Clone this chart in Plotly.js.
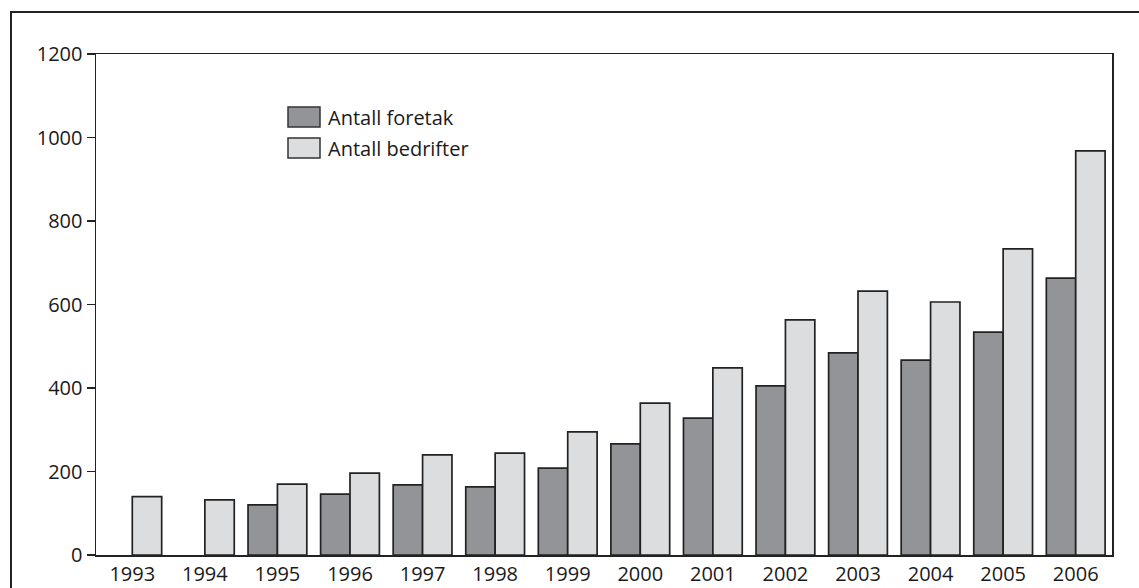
<!DOCTYPE html>
<html>
<head>
<meta charset="utf-8">
<script src="https://cdn.plot.ly/plotly-3.0.1.min.js"></script>
<style>
html,body{margin:0;padding:0;background:#fff;overflow:hidden;width:1139px;height:588px;}
#wrap{position:relative;width:1139px;height:588px;overflow:hidden;}
#chart{width:1139px;height:588px;}
#frame{position:absolute;left:10px;top:11px;width:1400px;height:900px;border-top:2.5px solid #222;border-left:2.5px solid #222;pointer-events:none;box-sizing:border-box;}
</style>
</head>
<body>
<div id="wrap"><div id="chart"></div><div id="frame"></div></div>
<script>
var years = ['1993','1994','1995','1996','1997','1998','1999','2000','2001','2002','2003','2004','2005','2006'];
var foretak = [null, null, 120, 146, 168, 163, 208, 266, 328, 405, 484, 467, 534, 663];
var bedrifter = [140, 132, 170, 196, 240, 244, 295, 364, 448, 563, 632, 606, 733, 968];
var seriesNames = ['Antall foretak', 'Antall bedrifter'];
var seriesColors = ['#939498', '#dcdddf'];
var yTicks = [0, 200, 400, 600, 800, 1000, 1200];

var W = 1139, H = 588;
var m = {l: 96, r: 27, t: 54, b: 33};
var pw = W - m.l - m.r, ph = H - m.t - m.b;
function px(x){ return (x - m.l) / pw; }
function py(y){ return (H - m.b - y) / ph; }

var textColor = '#1a1a1a';
var font = {family: '"Open Sans", "Noto Sans", sans-serif', size: 20, color: textColor};

var traces = [
  {type: 'bar', x: years, y: foretak, name: seriesNames[0],
   marker: {color: seriesColors[0], line: {color: '#222', width: 1.7}}},
  {type: 'bar', x: years, y: bedrifter, name: seriesNames[1],
   marker: {color: seriesColors[1], line: {color: '#222', width: 1.7}}}
];

var shapes = [
  // legend swatches
  {type: 'rect', xref: 'paper', yref: 'paper', x0: px(288), x1: px(320), y0: py(127), y1: py(107),
   line: {color: '#333', width: 1.5}, fillcolor: seriesColors[0]},
  {type: 'rect', xref: 'paper', yref: 'paper', x0: px(288), x1: px(320), y0: py(158), y1: py(138),
   line: {color: '#333', width: 1.5}, fillcolor: seriesColors[1]}
];

var annotations = [
  {xref: 'paper', yref: 'paper', x: px(326), y: py(117), text: seriesNames[0], showarrow: false,
   xanchor: 'left', yanchor: 'middle', font: font},
  {xref: 'paper', yref: 'paper', x: px(326), y: py(148), text: seriesNames[1], showarrow: false,
   xanchor: 'left', yanchor: 'middle', font: font}
];

var layout = {
  width: W, height: H,
  margin: m,
  paper_bgcolor: '#ffffff', plot_bgcolor: '#ffffff',
  showlegend: false,
  barmode: 'group', bargap: 0.19, bargroupgap: 0,
  font: font,
  xaxis: {type: 'category', showline: true, linecolor: '#222', linewidth: 1.5, mirror: true,
          ticks: '', showgrid: false, zeroline: false, tickfont: font},
  yaxis: {range: [0, 1200], tickvals: yTicks, ticktext: yTicks.map(String),
          showline: true, linecolor: '#222', linewidth: 1.5, mirror: true,
          ticks: 'outside', ticklen: 8, tickcolor: '#222', tickwidth: 1.5,
          showgrid: false, zeroline: false, tickfont: font, fixedrange: true},
  shapes: shapes,
  annotations: annotations
};

Plotly.newPlot('chart', traces, layout, {displayModeBar: false, staticPlot: true});
</script>
</body>
</html>
